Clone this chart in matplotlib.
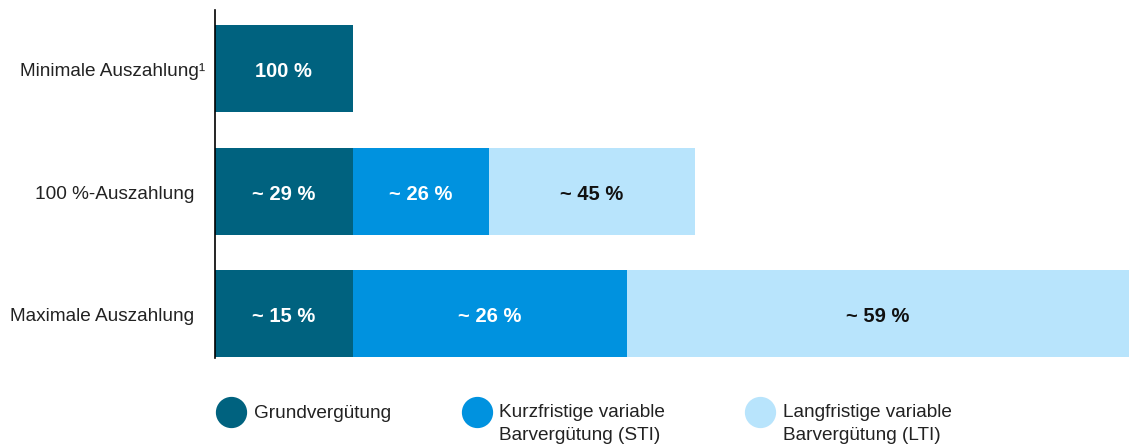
import numpy as np
import matplotlib.pyplot as plt
from matplotlib.lines import Line2D
from matplotlib.transforms import blended_transform_factory

plt.rcParams["font.family"] = ["Liberation Sans", "DejaVu Sans"]

# =========================
# Daten (Einheiten relativ zur Grundvergütung)
# =========================
szenarien = ["Minimale Auszahlung¹", "100 %-Auszahlung", "Maximale Auszahlung"]
grund = [1.0, 1.0, 1.0]
sti = [0.0, 0.99, 1.99]
lti = [0.0, 1.49, 3.64]

label_grund = ["100 %", "~ 29 %", "~ 15 %"]
label_sti = ["", "~ 26 %", "~ 26 %"]
label_lti = ["", "~ 45 %", "~ 59 %"]

legende = ["Grundvergütung",
           "Kurzfristige variable\nBarvergütung (STI)",
           "Langfristige variable\nBarvergütung (LTI)"]
farben = ["#00627f", "#0092df", "#b8e4fc"]
textfarben = ["white", "white", "#111111"]

# =========================
# Grafik
# =========================
fig = plt.figure(figsize=(11.29, 4.45), dpi=100)
ax = fig.add_axes([215 / 1129, 1 - 358 / 445, 914 / 1129, 348 / 445])

y = np.arange(len(szenarien))
hoehe = 0.71
dy = 0.025  # Text leicht nach unten

segmente = [(grund, label_grund), (sti, label_sti), (lti, label_lti)]
links = np.zeros(len(szenarien))
for i, (werte, texte) in enumerate(segmente):
    werte = np.array(werte)
    ax.barh(y, werte, left=links, height=hoehe, color=farben[i], linewidth=0)
    for k in range(len(szenarien)):
        if werte[k] > 0:
            ax.text(links[k] + werte[k] / 2, y[k] + dy, texte[k], ha="center",
                    va="center", color=textfarben[i], fontsize=14.5,
                    fontweight="bold")
    links = links + werte

ax.set_xlim(0, links.max())
ax.set_ylim(2.363, -0.478)

# Kategorien links
trans = blended_transform_factory(ax.transAxes, ax.transData)
for k, name in enumerate(szenarien):
    versatz = 10 if name.endswith("¹") else 21
    ax.text(-versatz / 914, y[k] + dy, name, transform=trans, ha="right",
            va="center", fontsize=13.7, color="#222222")

for s in ["top", "right", "bottom"]:
    ax.spines[s].set_visible(False)
ax.spines["left"].set_color("black")
ax.spines["left"].set_linewidth(1.2)
ax.set_xticks([])
ax.set_yticks([])

# =========================
# Legende
# =========================
pos_kreis = [231, 477, 760]
pos_text = [254, 499, 783]
for i in range(3):
    fig.add_artist(Line2D([pos_kreis[i] / 1129], [1 - 412 / 445],
                          marker="o", markersize=21.5, color=farben[i],
                          linestyle="none", transform=fig.transFigure))
    zeilen = legende[i].count("\n")
    fig.text(pos_text[i] / 1129, 1 - (404 if zeilen else 413) / 445,
             legende[i], ha="left", va="top" if zeilen else "center",
             fontsize=13.7, color="#222222", linespacing=1.45)

fig.savefig("out.png", dpi=100)
